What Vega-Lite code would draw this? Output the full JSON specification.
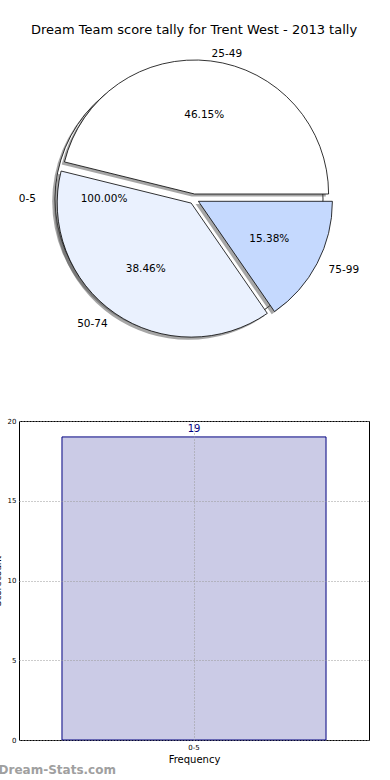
{
  "$schema": "https://vega.github.io/schema/vega-lite/v6.json",
  "padding": {"top": 24, "left": -8, "right": 0, "bottom": 0},
  "config": {"font": "DejaVu Sans", "view": {"stroke": null}},
  "datasets": {
    "pie": [
      {"range": "25-49", "count": 6, "pct": "46.15%"},
      {"range": "50-74", "count": 5, "pct": "38.46%"},
      {"range": "75-99", "count": 2, "pct": "15.38%"}
    ],
    "zero": [{"range": "0-5", "count": 19, "pct": "100.00%"}],
    "bar": [{"range": "0-5", "count": 19}]
  },
  "spacing": 57,
  "title": {"text": "Dream-Stats.com", "orient": "bottom", "anchor": "start", "fontSize": 12, "fontWeight": "bold", "color": "#a0a0a0", "offset": 0, "dx": 6, "font": "DejaVu Sans"},
  "vconcat": [
    {
      "title": {"text": "Dream Team score tally for Trent West - 2013 tally", "fontSize": 13, "fontWeight": "normal", "font": "DejaVu Sans", "offset": 2},
      "width": 350,
      "height": 320,
      "data": {"name": "pie"},
      "resolve": {"scale": {"theta": "independent"}},
      "layer": [
        {
          "data": {"name": "zero"},
          "mark": {"type": "arc", "radius": 134, "fill": "#4d4d4d", "fillOpacity": 0.5, "xOffset": -7.8, "yOffset": 2.6},
          "encoding": {"theta": {"field": "count", "type": "quantitative", "stack": true, "scale": {"range": [1.5708, 7.854]}}}
        },
        {
          "data": {"name": "zero"},
          "mark": {"type": "arc", "radius": 134, "fill": "white", "stroke": "black", "strokeWidth": 0.8, "xOffset": -5},
          "encoding": {"theta": {"field": "count", "type": "quantitative", "stack": true, "scale": {"range": [1.5708, 7.854]}}}
        },
        {
          "mark": {"type": "arc", "radius": 134, "fill": "#4d4d4d", "xOffset": -2.2, "yOffset": -2.4},
          "encoding": {
            "theta": {"field": "count", "type": "quantitative", "stack": true, "scale": {"range": [1.5708, 7.854]}},
            "order": {"field": "range", "sort": "descending"},
            "fillOpacity": {"condition": {"test": "datum.range === '25-49'", "value": 0.5}, "value": 0}
          }
        },
        {
          "mark": {"type": "arc", "radius": 134, "fill": "#4d4d4d", "xOffset": -5.6, "yOffset": 6.7},
          "encoding": {
            "theta": {"field": "count", "type": "quantitative", "stack": true, "scale": {"range": [1.5708, 7.854]}},
            "order": {"field": "range", "sort": "descending"},
            "fillOpacity": {"condition": {"test": "datum.range === '50-74'", "value": 0.5}, "value": 0}
          }
        },
        {
          "mark": {"type": "arc", "radius": 134, "fill": "#4d4d4d", "xOffset": 1.6, "yOffset": 4.9},
          "encoding": {
            "theta": {"field": "count", "type": "quantitative", "stack": true, "scale": {"range": [1.5708, 7.854]}},
            "order": {"field": "range", "sort": "descending"},
            "fillOpacity": {"condition": {"test": "datum.range === '75-99'", "value": 0.5}, "value": 0}
          }
        },
        {
          "mark": {"type": "arc", "radius": 134, "fill": "white", "stroke": "black", "strokeWidth": 0.8, "xOffset": 0.6, "yOffset": -5},
          "encoding": {
            "theta": {"field": "count", "type": "quantitative", "stack": true, "scale": {"range": [1.5708, 7.854]}},
            "order": {"field": "range", "sort": "descending"},
            "opacity": {"condition": {"test": "datum.range === '25-49'", "value": 1}, "value": 0}
          }
        },
        {
          "mark": {"type": "arc", "radius": 134, "fill": "#eaf1fe", "stroke": "black", "strokeWidth": 0.8, "xOffset": -2.8, "yOffset": 4.1},
          "encoding": {
            "theta": {"field": "count", "type": "quantitative", "stack": true, "scale": {"range": [1.5708, 7.854]}},
            "order": {"field": "range", "sort": "descending"},
            "opacity": {"condition": {"test": "datum.range === '50-74'", "value": 1}, "value": 0}
          }
        },
        {
          "mark": {"type": "arc", "radius": 134, "fill": "#c5d9fe", "stroke": "black", "strokeWidth": 0.8, "xOffset": 4.4, "yOffset": 2.3},
          "encoding": {
            "theta": {"field": "count", "type": "quantitative", "stack": true, "scale": {"range": [1.5708, 7.854]}},
            "order": {"field": "range", "sort": "descending"},
            "opacity": {"condition": {"test": "datum.range === '75-99'", "value": 1}, "value": 0}
          }
        },
        {
          "mark": {"type": "text", "radius": 85, "fontSize": 10.5, "color": "black"},
          "encoding": {
            "theta": {"field": "count", "type": "quantitative", "stack": true, "scale": {"range": [1.5708, 7.854]}},
            "order": {"field": "range", "sort": "descending"},
            "text": {"field": "pct"}
          }
        },
        {
          "mark": {"type": "text", "radius": 146, "fontSize": 10.5, "align": "left", "color": "black"},
          "encoding": {
            "theta": {"field": "count", "type": "quantitative", "stack": true, "scale": {"range": [1.5708, 7.854]}},
            "order": {"field": "range", "sort": "descending"},
            "text": {"field": "range"},
            "opacity": {"condition": {"test": "datum.range === '25-49'", "value": 1}, "value": 0}
          }
        },
        {
          "mark": {"type": "text", "radius": 152, "fontSize": 10.5, "align": "left", "color": "black"},
          "encoding": {
            "theta": {"field": "count", "type": "quantitative", "stack": true, "scale": {"range": [1.5708, 7.854]}},
            "order": {"field": "range", "sort": "descending"},
            "text": {"field": "range"},
            "opacity": {"condition": {"test": "datum.range === '75-99'", "value": 1}, "value": 0}
          }
        },
        {
          "mark": {"type": "text", "radius": 152, "fontSize": 10.5, "align": "right", "color": "black"},
          "encoding": {
            "theta": {"field": "count", "type": "quantitative", "stack": true, "scale": {"range": [1.5708, 7.854]}},
            "order": {"field": "range", "sort": "descending"},
            "text": {"field": "range"},
            "opacity": {"condition": {"test": "datum.range === '50-74'", "value": 1}, "value": 0}
          }
        },
        {
          "data": {"name": "zero"},
          "mark": {"type": "text", "radius": 90, "fontSize": 10.5, "color": "black"},
          "encoding": {
            "theta": {"field": "count", "type": "quantitative", "stack": true, "scale": {"range": [1.5708, 7.854]}},
            "text": {"field": "pct"}
          }
        },
        {
          "data": {"name": "zero"},
          "mark": {"type": "text", "radius": 158, "fontSize": 10.5, "align": "right", "color": "black"},
          "encoding": {
            "theta": {"field": "count", "type": "quantitative", "stack": true, "scale": {"range": [1.5708, 7.854]}},
            "text": {"field": "range"}
          }
        }
      ]
    },
    {
      "width": 350,
      "height": 319,
      "data": {"name": "bar"},
      "view": {"stroke": "black", "strokeWidth": 1},
      "encoding": {
        "x": {
          "field": "range", "type": "nominal", "title": "Frequency",
          "scale": {"paddingInner": 0.14, "paddingOuter": 0.14},
          "axis": {"labelAngle": 0, "labelFontSize": 7, "titleFontSize": 10, "titleFontWeight": "normal", "grid": true, "gridDash": [1, 2], "gridColor": "#999999", "bandPosition": 0.5, "domain": false, "ticks": false, "labelPadding": 3, "titlePadding": 4, "zindex": 1}
        },
        "y": {
          "field": "count", "type": "quantitative", "title": "Scorecount",
          "scale": {"domain": [0, 20]},
          "axis": {"values": [0, 5, 10, 15, 20], "labelFontSize": 7, "grid": true, "gridDash": [1, 2], "gridColor": "#999999", "domain": false, "ticks": false, "titleFontSize": 9, "titleFontWeight": "normal", "labelPadding": 3, "titlePadding": 5, "zindex": 1}
        }
      },
      "layer": [
        {"mark": {"type": "bar", "fill": "#cbcbe6", "stroke": "#000080", "strokeWidth": 1}},
        {"mark": {"type": "text", "dy": -8, "color": "#000080", "fontSize": 10}, "encoding": {"text": {"field": "count", "type": "quantitative"}}}
      ]
    }
  ]
}
